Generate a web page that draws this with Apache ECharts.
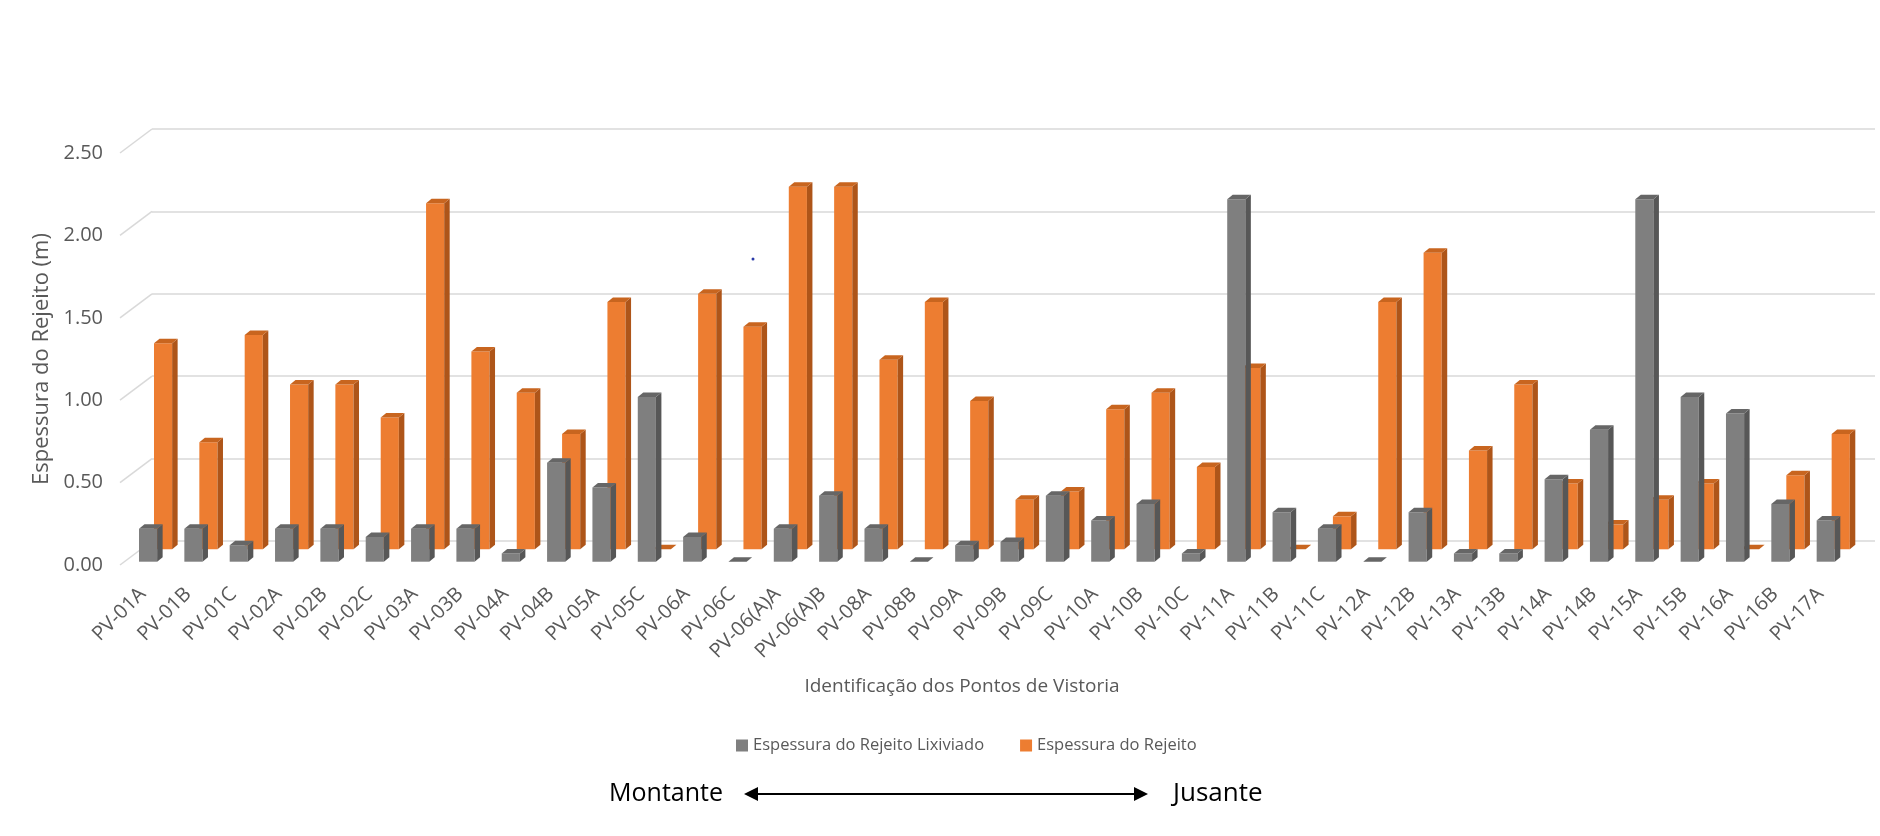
<!DOCTYPE html>
<html>
<head>
<meta charset="utf-8">
<script src="https://cdn.jsdelivr.net/npm/echarts@6/dist/echarts.min.js"></script>
<style>
  html, body { margin: 0; padding: 0; background: #fff; }
  #chart { width: 1880px; height: 836px; }
</style>
</head>
<body>
<div id="chart"></div>
<script>
const categories = ['PV-01A', 'PV-01B', 'PV-01C', 'PV-02A', 'PV-02B', 'PV-02C', 'PV-03A', 'PV-03B', 'PV-04A', 'PV-04B',
    'PV-05A', 'PV-05C', 'PV-06A', 'PV-06C', 'PV-06(A)A', 'PV-06(A)B', 'PV-08A', 'PV-08B', 'PV-09A', 'PV-09B',
    'PV-09C', 'PV-10A', 'PV-10B', 'PV-10C', 'PV-11A', 'PV-11B', 'PV-11C', 'PV-12A', 'PV-12B', 'PV-13A',
    'PV-13B', 'PV-14A', 'PV-14B', 'PV-15A', 'PV-15B', 'PV-16A', 'PV-16B', 'PV-17A'];

// Espessura do Rejeito Lixiviado (front row, gray)
const lixiviado = [0.20, 0.20, 0.10, 0.20, 0.20, 0.15, 0.20, 0.20, 0.05, 0.60,
    0.45, 1.00, 0.15, 0, 0.20, 0.40, 0.20, 0, 0.10, 0.12,
    0.40, 0.25, 0.35, 0.05, 2.20, 0.30, 0.20, 0, 0.30, 0.05,
    0.05, 0.50, 0.80, 2.20, 1.00, 0.90, 0.35, 0.25];

// Espessura do Rejeito (back row, orange)
const rejeito = [1.25, 0.65, 1.30, 1.00, 1.00, 0.80, 2.10, 1.20, 0.95, 0.70,
    1.50, 0, 1.55, 1.35, 2.20, 2.20, 1.15, 1.50, 0.90, 0.30,
    0.35, 0.85, 0.95, 0.50, 1.10, 0, 0.20, 1.50, 1.80, 0.60,
    1.00, 0.40, 0.15, 0.30, 0.40, 0, 0.45, 0.70];

const yTicks = [0, 0.5, 1, 1.5, 2, 2.5];

const legendNames = ['Espessura do Rejeito Lixiviado', 'Espessura do Rejeito'];
const font = '"Open Sans", "Noto Sans", sans-serif';

// 3d-ish column: front face + side + top, shifted back by (dx, dy)
function prism(dx, dy, colors) {
    return function (params, api) {
        const cat = api.value(0);
        const val = api.value(1);
        const top = api.coord([cat, val]);
        const base = api.coord([cat, 0]);
        const band = api.size([1, 0])[0];
        const w = band * 0.4;
        const x0 = top[0] - w / 2 + dx, x1 = x0 + w;
        const yT = top[1] + dy, yB = base[1] + dy;
        const ddx = 5.5, ddy = -4.5;
        const children = [];
        if (yB - yT > 0.5) {
            children.push({
                type: 'polygon',
                shape: { points: [[x0, yT], [x1, yT], [x1, yB], [x0, yB]] },
                style: { fill: colors[0] }
            });
            children.push({
                type: 'polygon',
                shape: { points: [[x1, yT], [x1 + ddx, yT + ddy], [x1 + ddx, yB + ddy], [x1, yB]] },
                style: { fill: colors[1] }
            });
        }
        children.push({
            type: 'polygon',
            shape: { points: [[x0, yT], [x0 + ddx, yT + ddy], [x1 + ddx, yT + ddy], [x1, yT]] },
            style: { fill: colors[2] }
        });
        return { type: 'group', children: children };
    };
}

const chart = echarts.init(document.getElementById('chart'));
chart.setOption({
    backgroundColor: '#ffffff',
    animation: false,
    grid: [
        { left: 120, right: 37, top: 153, bottom: 271 },
        // back wall
        { left: 152, right: 5, top: 129, bottom: 295 }
    ],
    xAxis: [
        {
            type: 'category',
            data: categories,
            gridIndex: 0,
            boundaryGap: true,
            axisLine: { show: false },
            axisTick: { show: false },
            axisLabel: {
                interval: 0,
                rotate: 45,
                margin: 26,
                color: '#595959',
                fontFamily: font,
                fontSize: 20
            }
        },
        { type: 'value', gridIndex: 1, min: 0, max: 1, show: false }
    ],
    yAxis: [
        {
            type: 'value',
            gridIndex: 0,
            min: 0,
            max: 2.5,
            interval: 0.5,
            splitLine: { show: false },
            axisLine: { show: false },
            axisTick: { show: false },
            axisLabel: {
                margin: 17,
                color: '#595959',
                fontFamily: font,
                fontSize: 20,
                formatter: function (v) { return v.toFixed(2); }
            },
            name: 'Espessura do Rejeito (m)',
            nameLocation: 'middle',
            nameGap: 54,
            nameTextStyle: { color: '#595959', fontFamily: font, fontSize: 22 }
        },
        {
            type: 'value',
            gridIndex: 1,
            min: 0,
            max: 2.5,
            interval: 0.5,
            axisLine: { show: false },
            axisTick: { show: false },
            axisLabel: { show: false },
            splitLine: { lineStyle: { color: '#d9d9d9', width: 1.5 } }
        }
    ],
    legend: {
        data: legendNames,
        left: 731,
        top: 732,
        itemWidth: 12,
        itemHeight: 12,
        itemGap: 36,
        icon: 'rect',
        textStyle: { color: '#595959', fontFamily: font, fontSize: 16.5 }
    },
    series: [
        {
            // side wall diagonals
            type: 'custom',
            name: 'walls',
            xAxisIndex: 0,
            yAxisIndex: 0,
            z: 1,
            silent: true,
            data: yTicks.map(function (v) { return [0, v]; }),
            renderItem: function (params, api) {
                const p = api.coord([0, api.value(1)]);
                const band = api.size([1, 0])[0];
                const x = p[0] - band / 2;
                return {
                    type: 'line',
                    shape: { x1: x, y1: p[1], x2: x + 32, y2: p[1] - 24 },
                    style: { stroke: '#d9d9d9', lineWidth: 1.5 }
                };
            }
        },
        {
            type: 'custom',
            name: legendNames[1],
            xAxisIndex: 0,
            yAxisIndex: 0,
            z: 2,
            itemStyle: { color: '#ed7d31' },
            data: rejeito.map(function (v, i) { return [i, v]; }),
            renderItem: prism(20.4, -15.7, ['#ed7d31', '#ae5519', '#c8651f'])
        },
        {
            type: 'custom',
            name: legendNames[0],
            xAxisIndex: 0,
            yAxisIndex: 0,
            z: 3,
            itemStyle: { color: '#7f7f7f' },
            data: lixiviado.map(function (v, i) { return [i, v]; }),
            renderItem: prism(5.4, -3.3, ['#7f7f7f', '#575757', '#666666'])
        }
    ],
    graphic: [
        {
            type: 'text',
            x: 962,
            y: 687,
            style: {
                text: 'Identificação dos Pontos de Vistoria',
                fill: '#595959',
                align: 'center',
                verticalAlign: 'middle',
                font: '19px "Open Sans", sans-serif'
            }
        },
        {
            type: 'text',
            x: 723,
            y: 794,
            style: {
                text: 'Montante',
                fill: '#000',
                align: 'right',
                verticalAlign: 'middle',
                font: '25px "Open Sans", sans-serif'
            }
        },
        {
            type: 'text',
            x: 1173,
            y: 794,
            style: {
                text: 'Jusante',
                fill: '#000',
                align: 'left',
                verticalAlign: 'middle',
                font: '26px "Open Sans", sans-serif'
            }
        },
        {
            type: 'line',
            shape: { x1: 754, y1: 794, x2: 1138, y2: 794 },
            style: { stroke: '#000', lineWidth: 2 }
        },
        {
            type: 'polygon',
            shape: { points: [[744, 794], [758, 787], [758, 801]] },
            style: { fill: '#000' }
        },
        {
            type: 'polygon',
            shape: { points: [[1148, 794], [1134, 787], [1134, 801]] },
            style: { fill: '#000' }
        },
        {
            type: 'circle',
            shape: { cx: 753, cy: 259, r: 1.5 },
            style: { fill: '#2a3aa8' }
        }
    ]
});
</script>
</body>
</html>
